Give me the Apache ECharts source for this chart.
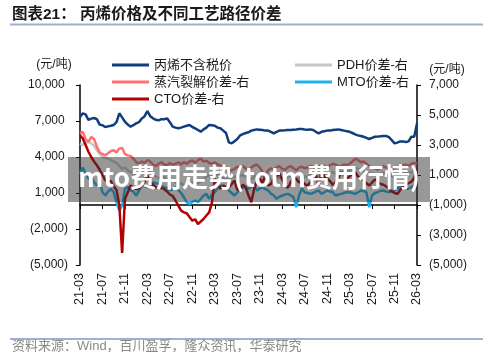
<!DOCTYPE html>
<html><head><meta charset="utf-8">
<script src="https://cdn.jsdelivr.net/npm/echarts@6/dist/echarts.min.js"></script>
<style>html,body{margin:0;padding:0;background:#fff}#c{width:500px;height:362px}</style>
</head><body><div id="c"></div>
<script>
// half-month dates from 2021-03 to 2026-03
const dates = [];
for (let k = 0; k <= 120; k++) {
  const m = Math.floor(k / 2);
  const y = 2021 + Math.floor((2 + m) / 12);
  const mm = ((2 + m) % 12) + 1;
  dates.push(y + '-' + String(mm).padStart(2, '0') + (k % 2 === 0 ? '-01' : '-16'));
}
const leftTicks = [-5000, -2000, 1000, 4000, 7000, 10000];
const rightTicks = [-5000, -3000, -1000, 1000, 3000, 5000, 7000];

const propylene = [7330,7640,7550,7100,7200,7250,7150,6700,6650,6500,
6550,6600,6670,6900,7640,7300,6940,6700,6530,6650,
6800,6900,7200,7400,7830,7400,7220,7100,7050,7150,
7150,7220,6900,6530,6450,6390,6450,6530,6600,6670,
6500,6390,6250,6110,6300,6450,6670,6650,6600,6450,
6390,6200,6000,5220,5140,5300,5500,5800,5900,6000,
6060,6200,6250,6300,6280,6250,6200,6200,6100,5970,
6100,6200,6200,6220,6250,6250,6280,6300,6330,6330,
6300,6280,6300,6250,6100,5970,6100,6150,6200,6200,
6250,6280,6300,6250,6200,6150,6100,6000,5890,5800,
5750,5690,5600,5500,5600,5690,5700,5720,5750,5750,
5650,5400,5140,5200,5300,5300,5250,5300,5690,5690,
6800];
const pdh = [3090,3000,3150,3200,3100,2950,2650,2400,2200,2150,
2100,2000,1900,1800,1600,1400,1500,1300,1200,1100,
1000,1150,1300,1200,1400,1200,1000,900,800,900,
850,700,600,650,500,400,450,300,350,400,
500,600,450,550,700,900,1000,900,1100,1000,
900,800,700,750,850,900,800,950,1000,900,
800,700,850,1000,950,900,800,750,700,650,
700,850,800,750,900,950,850,700,800,950,
900,850,1000,1050,950,900,1100,1050,1000,1100,
1200,1100,1000,1150,1250,1200,1300,1400,1500,1400,
1350,1300,1200,1150,1100,1050,1000,1100,1150,1050,
950,900,850,950,1000,1100,1150,1100,1200,1300,
1250];
const steam = [3780,3870,3400,3200,3540,3400,2900,2500,2400,2310,
2450,2600,2645,2500,2760,2800,2400,2310,2270,2100,
1860,1750,1900,1800,2000,1900,1700,1600,1750,1860,
1700,1650,1800,1700,1750,1850,1700,1860,1750,1900,
1975,1800,2000,2090,1900,1950,1800,1750,1850,1700,
1640,1550,1450,1350,1300,1400,1550,1500,1600,1450,
1300,1500,1640,1700,1500,1200,1000,1300,1450,1350,
1500,1600,1400,1350,1500,1600,1450,1300,1500,1550,
1450,1500,1600,1550,1400,1550,1650,1600,1500,1650,
1750,1700,1550,1600,1700,1650,1750,1900,2090,2000,
1850,1900,1750,1600,1500,1450,1350,1500,1600,1500,
1400,1300,1450,1550,1500,1650,1700,1600,1750,1800,
1750];
const mto = [1080,1500,1100,750,860,520,300,520,-150,-370,
-100,80,-150,-820,-1375,-1040,80,190,-30,-100,
-370,-50,300,250,190,300,520,450,410,300,
190,100,-30,50,190,0,-200,-480,-820,-930,
-800,-700,-820,-600,-370,-260,-590,-300,-150,100,
300,250,190,-30,-200,-370,-150,50,190,120,
80,200,300,-30,100,190,50,-30,-250,-370,
-590,-450,-370,-300,-260,-350,-480,-1150,-370,80,
-150,-200,-260,-200,-100,-30,-260,-150,-30,-100,
-150,-370,-300,-260,-200,-150,-150,-200,-260,-150,
-30,-80,-150,-1150,-370,-200,-150,-50,-30,-100,
-150,-80,-30,100,190,150,100,80,200,300,
300];
const cto = [3650,3430,3000,2550,2200,1900,1650,1350,1000,650,
520,600,250,0,-1000,-4200,-600,-150,300,150,
50,100,300,520,970,500,350,190,100,150,
50,-100,-300,-400,-700,-1040,-1375,-1490,-1550,-1800,
-2045,-1950,-2270,-2100,-1930,-1700,-1490,-820,750,400,
80,300,200,150,400,640,0,100,350,200,
-370,-820,80,600,750,500,970,300,400,700,
900,1100,700,300,150,500,800,750,500,600,
400,300,500,700,970,300,1150,900,750,600,
350,500,800,1190,1000,750,900,1100,1190,900,
800,600,450,300,500,700,600,400,350,250,
80,-100,-200,-260,0,200,350,450,550,800,
1420];

const names = ['丙烯不含税价', 'PDH价差-右', '蒸汽裂解价差-右', 'MTO价差-右', 'CTO价差-右'];
const colors = ['#0f3d7e', '#c6c6c6', '#ff7070', '#1cb2ee', '#b40000'];

const FONT = '"Liberation Sans", Arial, "Noto Sans CJK SC", sans-serif';
const CJK = '"Liberation Sans", "Noto Sans CJK SC", sans-serif';

function fmt(v) {
  const s = Math.abs(v).toLocaleString('en-US');
  return v < 0 ? '(' + s + ')' : s + ' ';
}
const labelEvery = (i) => i % 8 === 0;

const chart = echarts.init(document.getElementById('c'), null, { renderer: 'canvas' });
const mk = (idx, data, yIdx, xIdx) => ({
  name: names[idx], type: 'line', data: data, xAxisIndex: xIdx, yAxisIndex: yIdx,
  symbol: 'none', showSymbol: false, z: 2 + idx,
  lineStyle: { color: colors[idx], width: 2.5 }, itemStyle: { color: colors[idx] },
  emphasis: { disabled: true }
});
const legItem = (i) => ({ name: names[i], icon: 'rect', itemStyle: { color: colors[i] } });
const legText = { fontSize: 13, lineHeight: 13, color: '#1a1a1a', fontFamily: CJK };

chart.setOption({
  animation: false,
  backgroundColor: '#fff',
  grid: { left: 80, right: 83, top: 85, bottom: 97, containLabel: false },
  legend: [
    { data: [legItem(0), legItem(2), legItem(4)], orient: 'vertical', left: 107, top: 53.5,
      itemWidth: 37, itemHeight: 3, itemGap: 4, icon: 'rect', selectedMode: false, textStyle: legText },
    { data: [legItem(1), legItem(3)], orient: 'vertical', left: 290, top: 53.5,
      itemWidth: 37, itemHeight: 3, itemGap: 4, icon: 'rect', selectedMode: false, textStyle: legText }
  ],
  xAxis: [
    { type: 'category', data: dates, boundaryGap: false,
      axisLine: { show: true, onZero: true, onZeroAxisIndex: 0, lineStyle: { color: '#000', width: 1.5 } },
      axisTick: { show: true, interval: labelEvery, length: 4, inside: false, lineStyle: { color: '#000', width: 1 } },
      axisLabel: { show: false }, splitLine: { show: false } },
    { type: 'category', data: dates, boundaryGap: false, position: 'bottom',
      axisLine: { show: false, onZero: false }, axisTick: { show: false },
      axisLabel: { show: true, interval: labelEvery, rotate: 90, margin: 8, fontSize: 12.5,
        color: '#1a1a1a', fontFamily: FONT, formatter: (v) => v.slice(2, 7) },
      splitLine: { show: false } }
  ],
  yAxis: [
    { type: 'value', position: 'left', min: -5000, max: 10000,
      axisLine: { show: true, lineStyle: { color: '#000', width: 1.5 } },
      axisTick: { show: true, customValues: leftTicks, length: 4, lineStyle: { color: '#000' } },
      axisLabel: { customValues: leftTicks, formatter: fmt, margin: 12, fontSize: 12, color: '#1a1a1a', fontFamily: FONT },
      splitLine: { show: false } },
    { type: 'value', position: 'right', min: -5000, max: 7000,
      axisLine: { show: true, lineStyle: { color: '#000', width: 1.5 } },
      axisTick: { show: true, customValues: rightTicks, length: 4, lineStyle: { color: '#000' } },
      axisLabel: { customValues: rightTicks, formatter: fmt, margin: 12, fontSize: 12, color: '#1a1a1a', fontFamily: FONT },
      splitLine: { show: false } }
  ],
  series: [
    mk(0, propylene, 0, 0),
    mk(1, pdh, 1, 1),
    mk(2, steam, 1, 0),
    mk(3, mto, 1, 0),
    mk(4, cto, 1, 0)
  ],
  graphic: [
    { type: 'text', x: 12, y: 15, z: 100, style: { text: '图表21： 丙烯价格及不同工艺路径价差', fontSize: 15.5, fontWeight: 'bold',
      fontFamily: CJK, fill: '#1a1a1a', textVerticalAlign: 'middle' } },
    { type: 'line', z: 100, shape: { x1: 10, y1: 24.5, x2: 483, y2: 24.5 }, style: { stroke: '#9db2d2', lineWidth: 2 } },
    { type: 'line', z: 100, shape: { x1: 10, y1: 339, x2: 483, y2: 339 }, style: { stroke: '#9db2d2', lineWidth: 2 } },
    { type: 'text', x: 12, y: 346, z: 100, style: { text: '资料来源：Wind，百川盈孚，隆众资讯，华泰研究', fontSize: 13,
      fontFamily: CJK, fill: '#8a8a8a', textVerticalAlign: 'middle' } },
    { type: 'text', x: 54, y: 65, z: 100, style: { text: '(元/吨)', fontSize: 12, fontFamily: CJK, fill: '#1a1a1a',
      textAlign: 'center', textVerticalAlign: 'middle' } },
    { type: 'text', x: 447, y: 70, z: 100, style: { text: '(元/吨)', fontSize: 12, fontFamily: CJK, fill: '#1a1a1a',
      textAlign: 'center', textVerticalAlign: 'middle' } },
    { type: 'rect', z: 200, shape: { x: 68, y: 157, width: 362, height: 45 }, style: { fill: 'rgba(50,50,50,0.5)' } },
    { type: 'text', x: 249, y: 177, z: 201, style: { text: 'mto费用走势(totm费用行情)', fontSize: 26, fontWeight: 'bold',
      fontFamily: '"Noto Sans CJK SC", sans-serif', fill: '#ffffff', textAlign: 'center', textVerticalAlign: 'middle' } }
  ]
});
</script></body></html>
